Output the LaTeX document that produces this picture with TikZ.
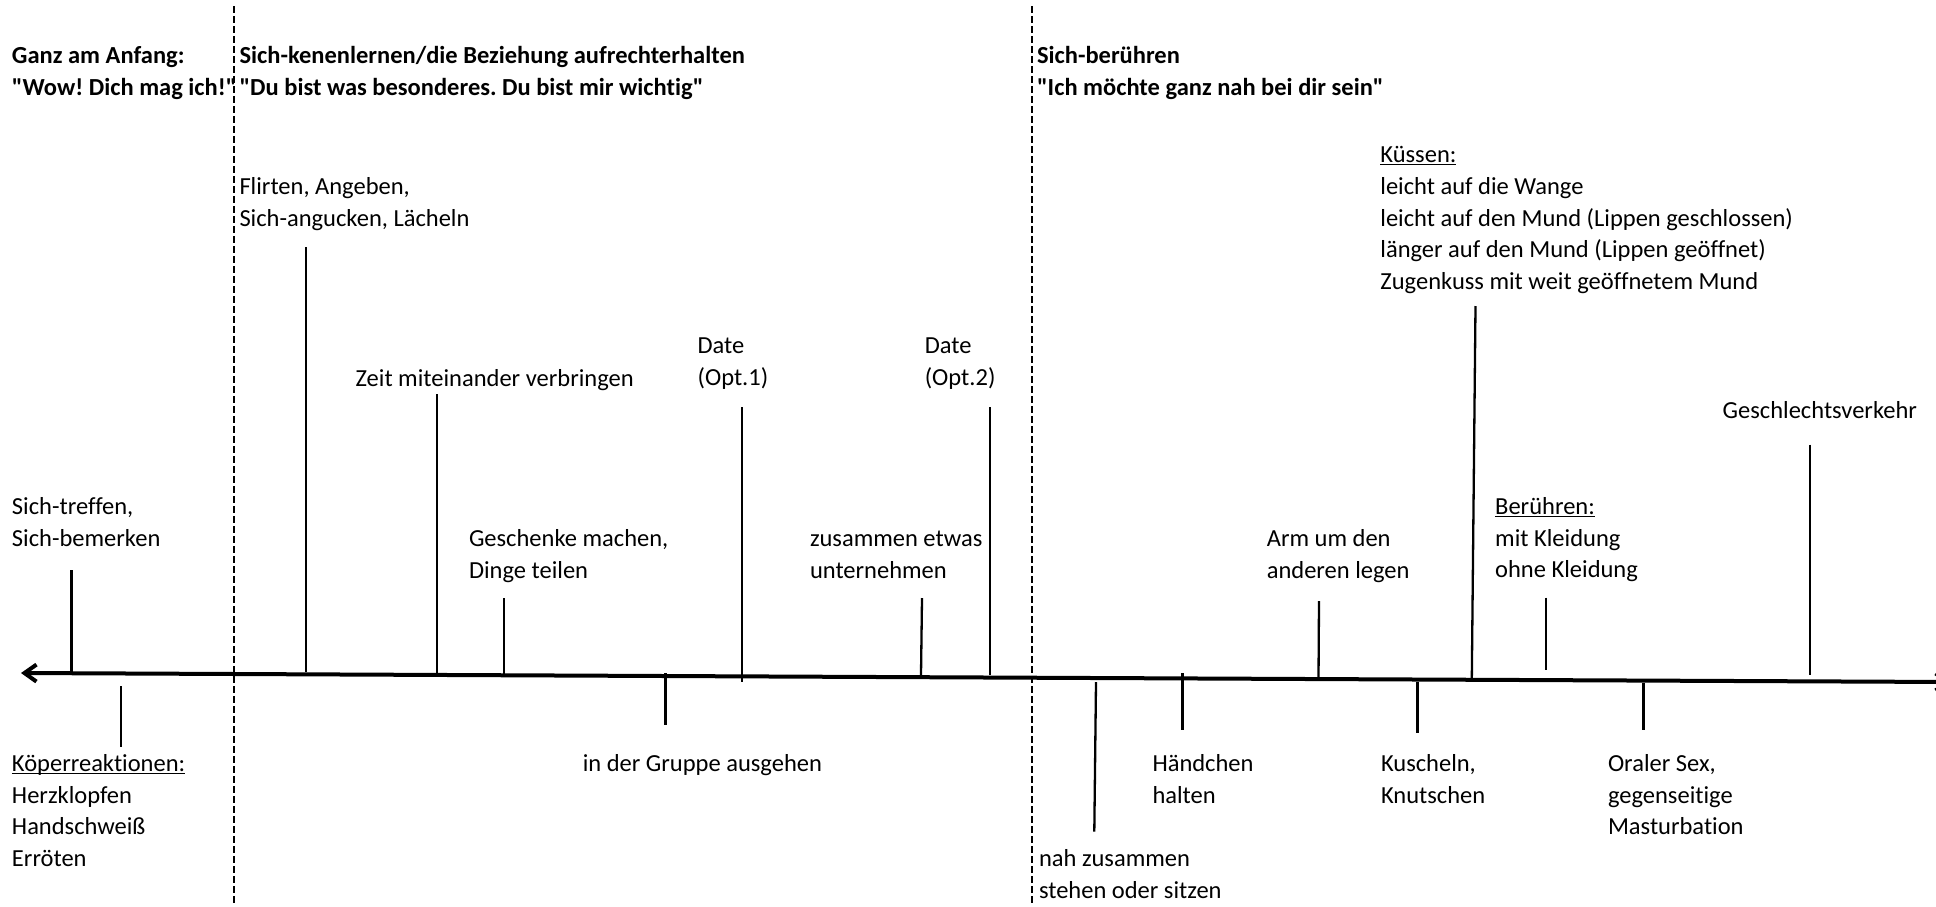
\documentclass[tikz,border=0pt]{standalone}
\usepackage{fontspec}
\newfontfamily\mainf{Carlito}[Ligatures={NoCommon}]
\usetikzlibrary{arrows.meta}
\newcommand\mylines[1]{\begin{tabular}[t]{@{}l@{}}#1\end{tabular}}
\newcommand\myul[1]{\underline{\smash{#1}}}
\frenchspacing
\begin{document}
\begin{tikzpicture}[x=1pt,y=-1pt,
  lbl/.style={anchor=base west, inner sep=0pt, outer sep=0pt, font=\mainf\fontsize{24.5}{31.7}\selectfont\frenchspacing},
  hdr/.style={lbl, font=\mainf\fontsize{24.5}{31.7}\selectfont\bfseries\frenchspacing},
  tick/.style={line width=2.3pt},
  divider/.style={line width=2pt, dash pattern=on 7pt off 3pt},
  axis/.style={line width=4pt, {Straight Barb[length=12pt,width=17pt]}-{Straight Barb[length=12pt,width=17pt]}}]
\useasboundingbox (0,0) rectangle (1936,906);
\clip (0,0) rectangle (1936,906);
% dividers
\coordinate (d1t) at (234,6); \coordinate (d1b) at (234,906);
\coordinate (d2t) at (1032,6); \coordinate (d2b) at (1032,906);
\draw[divider] (d1t) -- (d1b);
\draw[divider] (d2t) -- (d2b);
% axis
\coordinate (axR) at (1951,682); \coordinate (axL) at (21,673);
\draw[axis] (axL) -- (axR);
% headers
\node[hdr] (h1) at (12,63.8) {\mylines{Ganz am Anfang:\\"Wow! Dich mag ich!"}};
\node[hdr] (h2) at (239.5,63.8) {\mylines{Sich-kenenlernen/die Beziehung aufrechterhalten\\"Du bist was besonderes. Du bist mir wichtig"}};
\node[hdr] (h3) at (1037,63.8) {\mylines{Sich-berühren\\"Ich möchte ganz nah bei dir sein"}};
% labels above the axis
\node[lbl] (treffen) at (12,514.5) {\mylines{Sich-treffen,\\Sich-bemerken}};
\node[lbl] (flirten) at (239.5,194.7) {\mylines{Flirten, Angeben,\\Sich-angucken, Lächeln}};
\node[lbl] (zeit) at (355.6,386.1) {Zeit miteinander verbringen};
\node[lbl] (geschenke) at (469,546.6) {\mylines{Geschenke machen,\\Dinge teilen}};
\node[lbl] (date1) at (697.6,353.9) {\mylines{Date\\(Opt.1)}};
\node[lbl] (zusammen) at (810,546.6) {\mylines{zusammen etwas\\unternehmen}};
\node[lbl] (date2) at (924.8,353.9) {\mylines{Date\\(Opt.2)}};
\node[lbl] (arm) at (1266.8,546.6) {\mylines{Arm um den\\anderen legen}};
\node[lbl] (kuessen) at (1380.4,162.6) {\mylines{\myul{Küssen:}\\leicht auf die Wange\\leicht auf den Mund (Lippen geschlossen)\\länger auf den Mund (Lippen geöffnet)\\Zugenkuss mit weit geöffnetem Mund}};
\node[lbl] (beruehren) at (1495.2,514.5) {\mylines{\myul{Berühren:}\\mit Kleidung\\ohne Kleidung}};
\node[lbl] (gv) at (1722.7,418.2) {Geschlechtsverkehr};
% labels below the axis
\node[lbl] (koerper) at (12,771.3) {\mylines{\myul{Köperreaktionen:}\\Herzklopfen\\Handschweiß\\Erröten}};
\node[lbl] (gruppe) at (582.8,771.3) {in der Gruppe ausgehen};
\node[lbl] (nah) at (1039,866.3) {\mylines{nah zusammen\\stehen oder sitzen}};
\node[lbl] (haendchen) at (1152.5,771.3) {\mylines{Händchen\\halten}};
\node[lbl] (kuscheln) at (1381,771.3) {\mylines{Kuscheln,\\Knutschen}};
\node[lbl] (oral) at (1608,771.3) {\mylines{Oraler Sex,\\gegenseitige\\Masturbation}};
% ticks
\draw[tick] (71.5,570) -- (71.5,674);
\draw[tick] (121,686) -- (121,747);
\draw[tick] (306,247) -- (306,672);
\draw[tick] (437,394) -- (437,673);
\draw[tick] (504,598) -- (504,674);
\draw[tick] (665.5,673) -- (665.5,725);
\draw[tick] (742,407) -- (742,682);
\draw[tick] (922,598) -- (921,675);
\draw[tick] (990,407) -- (990,675);
\draw[tick] (1096,682) -- (1094.3,831.5);
\draw[tick] (1182.5,673) -- (1182.5,730);
\draw[tick] (1319,601) -- (1318.5,679);
\draw[tick] (1475.5,306) -- (1471.8,679);
\draw[tick] (1417.4,682) -- (1417.4,733.4);
\draw[tick] (1545.8,597.6) -- (1545.8,670.4);
\draw[tick] (1643.4,683) -- (1643.4,729.7);
\draw[tick] (1810,444.5) -- (1810,675.4);
\end{tikzpicture}
\end{document}
